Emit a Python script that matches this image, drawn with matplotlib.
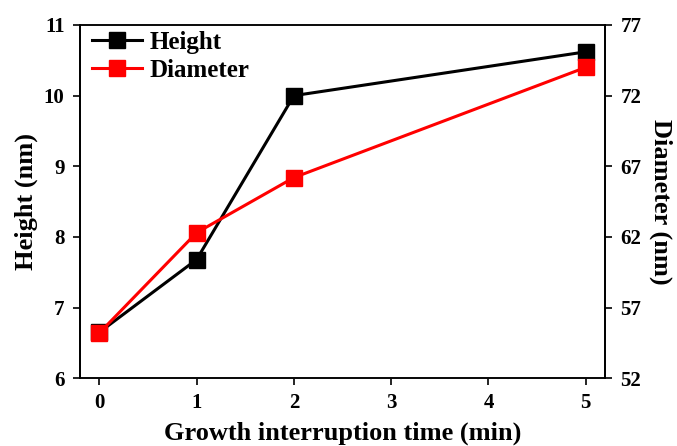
import matplotlib
matplotlib.use("Agg")
import matplotlib.pyplot as plt

plt.rcParams['font.family'] = ['Liberation Serif', 'DejaVu Serif']
plt.rcParams['font.weight'] = 'bold'

# data
time_min = [0, 1, 2, 5]
height_nm = [6.65, 7.68, 10.0, 10.62]
diameter_nm = [55.2, 62.3, 66.2, 74.0]

fig, ax = plt.subplots(figsize=(6.77, 4.46), dpi=100)
fig.subplots_adjust(left=0.118, right=0.894, top=0.944, bottom=0.152)

ax2 = ax.twinx()

l1, = ax.plot(time_min, height_nm, color='black', lw=2.2, marker='s', ms=11.5, label='Height')
l2, = ax2.plot(time_min, diameter_nm, color='#ff0000', lw=2.2, marker='s', ms=11.5, label='Diameter')

ax.set_xlim(-0.2, 5.2)
ax.set_ylim(6, 11)
ax2.set_ylim(52, 77)
ax.set_xticks([0, 1, 2, 3, 4, 5])
ax.set_yticks([6, 7, 8, 9, 10, 11])
ax2.set_yticks([52, 57, 62, 67, 72, 77])

ax.set_xlabel('Growth interruption time (min)', fontsize=19, fontweight='bold', labelpad=6)
ax.set_ylabel('Height (nm)', fontsize=19, fontweight='bold', labelpad=4)
ax2.set_ylabel('Diameter (nm)', fontsize=19, fontweight='bold', rotation=270, labelpad=22)

for a in (ax, ax2):
    a.tick_params(labelsize=15, width=1.2, length=5, direction='out', pad=6)
    for s in a.spines.values():
        s.set_linewidth(1.3)
ax.spines['top'].set_color('#888888')
ax.spines['bottom'].set_color('#777777')

ax.legend([l1, l2], ['Height', 'Diameter'], loc='upper left', frameon=False,
          bbox_to_anchor=(0.014, 0.997),
          fontsize=18, handlelength=2.0, borderaxespad=0.0, handletextpad=0.3,
          labelspacing=0.2, borderpad=0.2)

fig.savefig('out.png', dpi=100)
